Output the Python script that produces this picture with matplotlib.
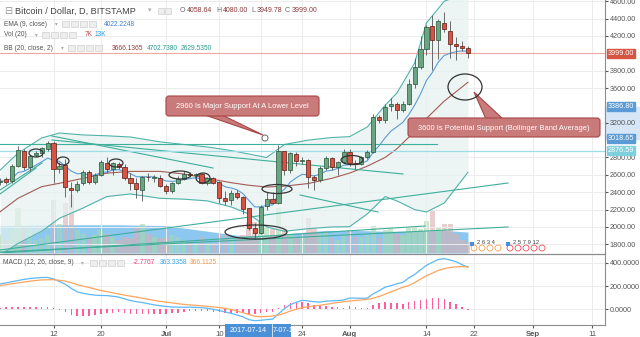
import matplotlib.pyplot as plt
import matplotlib.patches as mpatches
import pandas as pd

plt.rcParams['font.family'] = ['Liberation Sans', 'DejaVu Sans']

# daily candles, day 0 = 2017-06-03, last = 2017-08-21
opens = [2515, 2550, 2528, 2700, 2878, 2694, 2829, 2855, 2894, 2970,
         2664, 2714, 2452, 2426, 2502, 2629, 2521, 2598, 2740, 2664,
         2722, 2687, 2560, 2510, 2426, 2579, 2565, 2560, 2472, 2418,
         2510, 2549, 2606, 2600, 2606, 2502, 2560, 2521, 2333, 2310,
         2394, 2341, 2215, 1984, 1930, 2241, 2318, 2279, 2878, 2656,
         2837, 2763, 2771, 2572, 2541, 2676, 2791, 2694, 2752, 2867,
         2740, 2720, 2802, 2867, 3265, 3232, 3393, 3420, 3347, 3413,
         3647, 3846, 4047, 4318, 4154, 4353, 4261, 4110, 4088, 4058.64]
highs = [2560, 2575, 2720, 2935, 2900, 2830, 2870, 2920, 2985, 2990,
         2750, 2780, 2520, 2530, 2660, 2660, 2620, 2770, 2800, 2750,
         2750, 2720, 2620, 2560, 2590, 2620, 2600, 2600, 2500, 2520,
         2590, 2640, 2630, 2620, 2620, 2570, 2580, 2530, 2410, 2420,
         2420, 2360, 2220, 2050, 2250, 2400, 2400, 2944, 2880, 2860,
         2860, 2800, 2780, 2600, 2700, 2820, 2800, 2760, 2900, 2900,
         2770, 2820, 2890, 3300, 3290, 3420, 3490, 3440, 3450, 3700,
         3950, 4200, 4330, 4440, 4400, 4480, 4370, 4185, 4140, 4080]
lows = [2480, 2500, 2510, 2690, 2660, 2640, 2800, 2800, 2880, 2506,
        2620, 2348, 2233, 2400, 2480, 2500, 2500, 2590, 2620, 2600,
        2670, 2540, 2420, 2333, 2300, 2530, 2520, 2460, 2380, 2390,
        2500, 2540, 2570, 2580, 2490, 2480, 2500, 2280, 2250, 2250,
        2320, 2150, 1960, 1860, 1920, 2200, 2260, 2270, 2600, 2620,
        2700, 2730, 2450, 2426, 2520, 2660, 2660, 2600, 2740, 2700,
        2670, 2710, 2780, 2850, 3200, 3200, 3330, 3240, 3320, 3400,
        3600, 3820, 3980, 3808, 3930, 4250, 3950, 3923, 4030, 3949.78]
closes = [2530, 2518, 2700, 2886, 2694, 2817, 2855, 2906, 2964, 2667,
          2706, 2464, 2426, 2491, 2629, 2521, 2598, 2745, 2664, 2733,
          2687, 2560, 2510, 2434, 2579, 2575, 2580, 2472, 2418, 2510,
          2549, 2606, 2600, 2608, 2502, 2560, 2510, 2330, 2300, 2394,
          2345, 2205, 1990, 1935, 2234, 2318, 2275, 2878, 2656, 2848,
          2763, 2770, 2570, 2541, 2676, 2791, 2694, 2752, 2867, 2740,
          2720, 2802, 2867, 3265, 3232, 3385, 3420, 3347, 3413, 3647,
          3846, 4047, 4308, 4154, 4376, 4277, 4104, 4090, 4065, 3999]
volume = [11, 8, 14, 28, 17, 14, 8, 9, 11, 33, 18, 31, 36, 14, 12, 10, 11, 14,
          12, 10, 8, 10, 9, 16, 18, 12, 10, 9, 9, 11, 10, 8, 7, 6, 10, 6, 6,
          12, 11, 10, 9, 11, 19, 19, 20, 18, 15, 28, 17, 12, 9, 10, 22, 16, 12,
          13, 9, 8, 11, 14, 10, 10, 11, 17, 9, 14, 15, 12, 11, 16, 16, 15, 20,
          26, 16, 18, 18, 12, 8, 7]

# Bollinger band (20, 2) at a few days
bb_days = [0, 3, 7, 10, 14, 18, 22, 27, 31, 35, 39, 42, 45, 48, 52, 56, 59,
           62, 65, 67, 70, 72, 75, 79]
bb_upper = [2656, 2850, 3025, 3082, 3060, 3050, 3036, 2980, 2950, 2921, 2880,
            2840, 2800, 2950, 3000, 3030, 3040, 3151, 3400, 3543, 3889, 4350,
            4600, 4702]
bb_mid = [2176, 2330, 2464, 2503, 2560, 2620, 2640, 2640, 2610, 2560, 2510,
          2480, 2460, 2470, 2500, 2560, 2620, 2700, 2800, 2900, 3100, 3250,
          3450, 3666]
bb_lower = [1680, 1810, 1950, 2100, 2218, 2350, 2380, 2330, 2320, 2300, 2230,
            2150, 2000, 1950, 1980, 2000, 2003, 2150, 2350, 2300, 2200, 2172,
            2276, 2629]
vol_ma_days = [0, 10, 20, 28, 34, 40, 45, 50, 55, 60, 65, 70, 75, 79]
vol_ma = [17, 17.5, 17.5, 17, 14, 11, 11, 12.5, 14, 14, 13.5, 13.5, 14, 13]

macd = [219, 228, 238, 248, 258, 265, 270, 274, 275, 262, 240, 215, 180, 150,
        138, 128, 122, 119, 118, 112, 105, 90, 75, 65, 58, 48, 38, 30, 24, 20,
        18, 17, 18, 16, 14, 8, 0, -12, -23, -35, -50, -65, -90, -99, -95, -90,
        -85, -40, 5, 40, 60, 77, 72, 65, 62, 70, 72, 75, 80, 96, 96, 95, 96,
        134, 160, 190, 204, 220, 232, 270, 300, 340, 380, 405, 430, 437, 425,
        410, 385, 363.34]
signal = [205, 212, 220, 228, 235, 242, 248, 253, 255, 255, 250, 243, 230,
          212, 200, 188, 175, 162, 152, 142, 132, 122, 113, 105, 95, 86, 77,
          68, 62, 55, 48, 42, 37, 34, 30, 25, 20, 14, 8, -2, -15, -30, -45,
          -60, -65, -62, -58, -51, -35, -15, 0, 14, 22, 28, 34, 42, 50, 58, 65,
          71, 76, 80, 85, 95, 110, 130, 150, 170, 190, 204, 230, 260, 289,
          312, 335, 351, 360, 366, 368, 366.11]

tick_days = [9, 17, 28, 37, 44, 51, 59, 72, 80, 90, 100]
tick_labels = ['12', '20', 'Jul', '10', '', '24', 'Aug', '14', '22', 'Sep', '11']
price_ticks = [1800, 2000, 2200, 2400, 2600, 2800, 3200, 3600, 3800, 4200, 4400, 4600]
macd_ticks = [0, 200, 400]

W, H = 640, 337
up_col, dn_col = '#6ba583', '#d75442'
up_edge, dn_edge = '#225437', '#5b1a13'
teal = '#4fb3a9'

days = list(range(len(closes)))
ema9 = pd.Series(closes).ewm(span=9, adjust=False).mean()

def px2d(x):
    return 28 + (x - 166) / 5.92

def py2p(y):
    return 2800 + (157.5 - y) / 0.0868

fig = plt.figure(figsize=(6.4, 3.37), dpi=100)
ax = fig.add_axes([0, 1 - 253 / H, 605 / W, 253 / H])
axm = fig.add_axes([0, 1 - 325 / H, 605 / W, 71 / H])
axv = ax.twinx()

xlim = (px2d(0), px2d(605))
ax.set_xlim(xlim)
ax.set_ylim(py2p(253), py2p(0))
axm.set_xlim(xlim)
axm.set_ylim(-136, 477)

# volume overlay
axv.set_ylim(0, 253 * 0.62)
axv.fill_between(vol_ma_days, 0, vol_ma, color='#7fc1ee', alpha=0.9, lw=0, zorder=1)
for d in days:
    c = '#a8d8ac' if closes[d] >= opens[d] else '#d8b0b0'
    axv.bar(d, volume[d], width=0.85, color=c, alpha=0.6, lw=0, zorder=2)
axv.set_yticks([])
for s in axv.spines.values():
    s.set_visible(False)
axv.set_zorder(0)
ax.set_zorder(1)
ax.patch.set_visible(False)

# grid
for a in (ax, axm):
    for t in tick_days:
        a.axvline(t, color='#ececec', lw=0.7, zorder=0)
for p in price_ticks:
    ax.axhline(p, color='#ececec', lw=0.7, zorder=0)
for p in macd_ticks:
    axm.axhline(p, color='#ececec', lw=0.7, zorder=0)

# bollinger bands
ax.fill_between(bb_days, bb_lower, bb_upper, color='#e4f2f0', alpha=0.7, lw=0, zorder=1)
ax.plot(bb_days, bb_upper, color=teal, lw=0.8, zorder=2)
ax.plot(bb_days, bb_lower, color=teal, lw=0.8, zorder=2)
ax.plot(bb_days, bb_mid, color='#a55a55', lw=0.8, zorder=2)
ax.plot(days, ema9, color='#5b9cd6', lw=0.8, zorder=3)

# drawn trend lines
lines = [((0, 143.6), (437, 143.6)),
         ((0, 250), (508, 183)),
         ((0, 252), (508, 227)),
         ((0, 253), (425, 226)),
         ((52, 140), (403, 174)),
         ((52, 136), (213, 168)),
         ((0, 190), (42, 163)),
         ((0, 194), (36, 168)),
         ((300, 195), (378, 212))]
for (x0, y0), (x1, y1) in lines:
    ax.plot([px2d(x0), px2d(x1)], [py2p(y0), py2p(y1)], color='#3fae9a', lw=0.8, zorder=2)
ax.axhline(2876.59, color='#9fdde6', lw=0.9, zorder=2)
ax.axhline(3999, color='#f0a89e', lw=0.8, zorder=2)

# candles
for d in days:
    o, h, l, c = opens[d], highs[d], lows[d], closes[d]
    up = c >= o
    ax.vlines(d, l, h, color='#555555', lw=0.6, zorder=4)
    ax.bar(d, max(abs(c - o), 6), bottom=min(o, c), width=0.7,
           color=up_col if up else dn_col, edgecolor=up_edge if up else dn_edge,
           lw=0.5, zorder=5)

# macd
axm.plot(days, macd, color='#5db8f5', lw=0.9, zorder=3)
axm.plot(days, signal, color='#fca55e', lw=0.9, zorder=3)
hist = [m - s for m, s in zip(macd, signal)]
axm.bar(days, hist, width=0.25, color='#ff5c9a', zorder=2)

# axes styling
for a in (ax, axm):
    a.yaxis.tick_right()
    for s in ('top', 'left', 'bottom'):
        a.spines[s].set_visible(False)
    a.spines['right'].set_color('#8c8c8c')
    a.tick_params(axis='y', labelsize=5.2, colors='#555555', length=2, pad=1.5)
ax.set_xticks([])
ax.set_yticks(price_ticks)
ax.set_yticklabels(['%.2f' % p for p in price_ticks])
axm.set_yticks(macd_ticks)
axm.set_yticklabels(['%.4f' % p for p in macd_ticks])
axm.set_xticks(tick_days)
axm.set_xticklabels(tick_labels)
axm.tick_params(axis='x', labelsize=5.6, colors='#555555', length=2, pad=2)
for lab in axm.get_xticklabels():
    if lab.get_text() in ('Jul', 'Aug', 'Sep'):
        lab.set_fontweight('bold')
axm.spines['bottom'].set_visible(True)
axm.spines['bottom'].set_color('#8c8c8c')
fig.add_artist(plt.Line2D([0, 605 / W], [1 - 253.5 / H] * 2, color='#8c8c8c', lw=0.9))

# price labels on axis
def axis_tag(price, text, bg):
    ax.text(1.005, price, text, transform=ax.get_yaxis_transform(), fontsize=5.2,
            color='white', va='center', ha='left',
            bbox=dict(boxstyle='square,pad=0.15', fc=bg, ec=bg))

ax.axhspan(3018.65, 3386.8, xmin=1.0, xmax=1.057, color='#d6e6f7', clip_on=False, zorder=0)
axis_tag(3999, '3999.00', '#d75442')
axis_tag(3386.8, '3386.80', '#5b9bd5')
axis_tag(3018.65, '3018.65', '#5b9bd5')
axis_tag(2876.59, '2876.59', '#7fd0dd')

# overlay in pixel coords for annotations
ov = fig.add_axes([0, 0, 1, 1])
ov.set_zorder(10)
ov.patch.set_visible(False)
ov.set_xlim(0, W)
ov.set_ylim(H, 0)
ov.axis('off')

def callout(x0, y0, x1, y1, tip, base, text):
    ov.add_patch(mpatches.Polygon([base[0], tip, base[1]], closed=True,
                                  fc='#c97b7b', ec='#a84545', lw=0.8, zorder=5))
    ov.add_patch(mpatches.FancyBboxPatch((x0, y0), x1 - x0, y1 - y0,
                                         boxstyle='round,pad=0,rounding_size=3',
                                         fc='#c97b7b', ec='#a84545', lw=0.8, zorder=6))
    ov.text((x0 + x1) / 2, (y0 + y1) / 2 + 0.5, text, color='white', fontsize=5.4,
            ha='center', va='center', zorder=7)

callout(166, 96, 319, 116, (263, 135), [(205, 115), (222, 115)],
        '2960 Is Major Support At A Lower Level')
ov.add_patch(mpatches.Circle((265, 138), 3, fc='white', ec='#777777', lw=0.8, zorder=7))
callout(408, 118, 600, 137, (474, 92), [(486, 119), (503, 119)],
        '3600 Is Potential Support (Bollinger Band Average)')

# hand-drawn circles
for cx, cy, w, h in [(465, 87, 34, 26), (36, 153, 14, 8), (63, 161, 12, 8),
                     (116, 163, 14, 8), (180, 175, 22, 8), (203, 178, 14, 10),
                     (256, 232, 62, 14), (277, 189, 30, 9), (352, 160, 22, 9)]:
    ov.add_patch(mpatches.Ellipse((cx, cy), w, h, fill=False, ec='#333333', lw=0.9, zorder=6))

# header texts
ov.text(4, 11, '\u229f', fontsize=7, color='#999999', va='center')
ov.text(15, 11, 'Bitcoin / Dollar, D, BITSTAMP', fontsize=6.6, color='#444444', va='center')
ov.text(148, 11, '\u25be', fontsize=5, color='#aaaaaa', va='center')
for k in range(2):
    ov.add_patch(mpatches.Rectangle((158 + k * 7, 7.5), 5.5, 6, fc='#eeeeee', ec='#d0d0d0', lw=0.5))
for xl, lab, xv, val in [(180, 'O', 187, '4058.64'), (216, 'H', 223, '4080.00'),
                         (251, 'L', 257, '3949.78'), (285, 'C', 292, '3999.00')]:
    ov.text(xl, 11, lab, fontsize=5, color='#666666', va='center')
    ov.text(xv, 11, val, fontsize=5, color='#8b3a3a', va='center')

rows = [(24, 'EMA (9, close)', 62, 104, [('4022.2248', '#3d7fd6')]),
        (35, 'Vol (20)', 42, 85, [('7K', '#c0504d'), ('13K', '#2e9be6')]),
        (48, 'BB (20, close, 2)', 68, 112, [('3666.1365', '#9a3a3a'), ('4702.7380', '#2a9d8f'),
                                           ('2629.5350', '#2a9d8f')])]
for y, name, xi, xv, vals in rows:
    ov.text(4, y, name, fontsize=4.8, color='#555555', va='center')
    ov.text(xi - 7, y, '\u25be', fontsize=4, color='#aaaaaa', va='center')
    for k in range(4):
        ov.add_patch(mpatches.Rectangle((xi + k * 9, y - 3), 6.5, 6,
                                        fc='#eeeeee', ec='#d0d0d0', lw=0.5))
    x = xv
    for txt, col in vals:
        ov.text(x, y, txt, fontsize=4.8, color=col, va='center')
        x += len(txt) * 3.5 + 3
ov.text(3, 263, 'MACD (12, 26, close, 9)', fontsize=4.8, color='#555555', va='center')
ov.text(81, 263, '\u25be', fontsize=4, color='#aaaaaa', va='center')
for k in range(4):
    ov.add_patch(mpatches.Rectangle((90 + k * 9, 260), 6.5, 6, fc='#eeeeee', ec='#d0d0d0', lw=0.5))
for x, txt, col in [(133, '-2.7767', '#f0407a'), (160, '363.3358', '#3aa6f0'),
                    (190, '366.1125', '#f59a4a')]:
    ov.text(x, 263, txt, fontsize=4.8, color=col, va='center')

# date highlight on x axis
ov.add_patch(mpatches.Rectangle((225, 324), 66, 13, fc='#4a90d9', ec='none', zorder=5))
ov.text(248, 330.5, '2017-07-14', fontsize=5.2, color='white', ha='center', va='center', zorder=6)
ov.text(273, 330.5, '7-07-18', fontsize=5.2, color='white', ha='left', va='center', zorder=6)
ov.plot([272, 272], [324, 337], color='#ffffff', lw=0.5, zorder=6)

# event flags
for cx, col in [(474, '#f5a04a'), (482, '#f5a04a'), (490, '#f5a04a'), (498, '#f5a04a'),
                (510, '#e8505b'), (518, '#e8505b'), (526, '#e8505b'), (534, '#e8505b'),
                (542, '#e8505b')]:
    ov.add_patch(mpatches.Circle((cx, 248), 3, fill=False, ec=col, lw=0.6))
ov.add_patch(mpatches.Rectangle((470, 242), 4, 4, fc='#4a90d9'))
ov.add_patch(mpatches.Rectangle((506, 242), 4, 4, fc='#4a90d9'))
ov.text(477, 242, '2 6 3 4', fontsize=4.2, color='#444444', va='center')
ov.text(513, 242, '2 5 7 9 12', fontsize=4.2, color='#444444', va='center')

fig.savefig('out.png', dpi=100)
